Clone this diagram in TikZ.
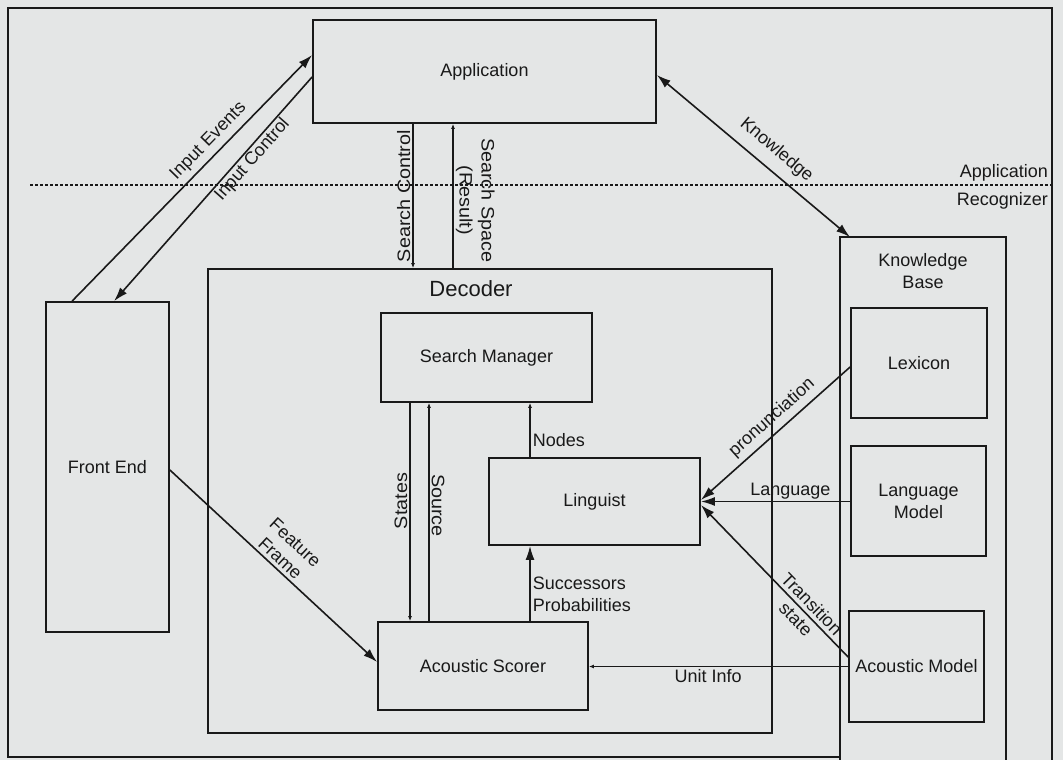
\documentclass[tikz,border=0pt]{standalone}
\usepackage{fontspec}
\usepackage{graphicx}
\setmainfont{Liberation Sans}
\usetikzlibrary{arrows.meta,calc}
\definecolor{bg}{RGB}{228,230,230}
\definecolor{ink}{RGB}{25,25,25}
\newcommand{\vtxt}[1]{\scalebox{1.1}[1]{#1}}
\begin{document}
\begin{tikzpicture}[x=1pt,y=-1pt,
  every node/.style={font=\fontsize{18}{22}\selectfont, text=ink},
  box/.style={draw=ink, line width=1.8pt, inner sep=0pt, align=center},
  con/.style={draw=ink, line width=1.6pt},
  >={Latex[length=14pt,width=9pt]},
  tiny/.style={-{Latex[length=5pt,width=4pt]}},
  lab/.style={inner sep=2pt, align=center}
]
\fill[bg] (0,0) rectangle (1063,760);
\useasboundingbox (0,0) rectangle (1063,760);
% outer frame
\draw[ink, line width=1.6pt] (840,757) -- (8,757) -- (8,8) -- (1052,8) -- (1052,760);
% separator
\draw[ink, line width=1.2pt, dash pattern=on 3pt off 2pt] (30,185) -- (1052,185);
\node[anchor=east, inner sep=1pt] (lapp) at (1049,173) {Application};
\node[anchor=east, inner sep=1pt] (lrec) at (1049,201) {Recognizer};

% boxes
\node[box, minimum width=343pt, minimum height=103pt] (app) at (484.5,71.5) {Application};
\node[box, minimum width=123pt, minimum height=330pt] (fe) at (107.5,467) {Front End};
\node[box, minimum width=564pt, minimum height=464pt] (dec) at (490,501) {};
\node[font=\fontsize{22}{26}\selectfont, inner sep=1pt] (declab) at (471,289) {Decoder};
\node[box, minimum width=211pt, minimum height=89pt] (sm) at (486.5,357.5) {Search Manager};
\node[box, minimum width=211pt, minimum height=87pt] (ling) at (594.5,501.5) {Linguist};
\node[box, minimum width=210pt, minimum height=88pt] (as) at (483,666) {Acoustic Scorer};
% knowledge base (open at the bottom)
\draw[ink, line width=1.8pt] (840,760) -- (840,237) -- (1006,237) -- (1006,760);
\node[align=center, inner sep=1pt] (kblab) at (923,271) {Knowledge\\Base};
\node[box, minimum width=136pt, minimum height=110pt] (lex) at (919,363) {Lexicon};
\node[box, minimum width=135pt, minimum height=110pt] (lm) at (918.5,501) {Language\\Model};
\node[box, minimum width=135pt, minimum height=111pt] (am) at (916.5,666.5) {Acoustic Model};
\coordinate (kb1) at (850,237);

% application <-> front end
\coordinate (ie1) at ([xshift=27pt]fe.north west);
\coordinate (ie2) at ([yshift=16.5pt]app.west);
\draw[con,->] (ie1) -- (ie2) node[lab, sloped, above, pos=0.61, inner sep=5pt] {Input Events};
\coordinate (ic1) at ([xshift=69pt]fe.north west);
\coordinate (ic2) at ([yshift=-5.5pt]app.west);
\draw[con,<-] (ic1) -- (ic2) node[lab, sloped, below, pos=0.66, inner sep=1pt] {Input Control};

% application <-> decoder
\coordinate (sc) at ([xshift=-71.5pt]app.south);
\draw[con,tiny] (sc) -- (sc |- dec.north) node[lab, pos=0.5, anchor=south, rotate=90] {\vtxt{Search Control}};
\coordinate (ss) at ([xshift=-31.5pt]app.south);
\draw[con,tiny] (ss |- dec.north) -- (ss) node[lab, pos=0.47, anchor=south, rotate=-90] {\vtxt{Search Space}\\\vtxt{(Result)}};

% knowledge
\draw[con,<->] ([yshift=-3.5pt]app.east) -- (kb1) node[lab, sloped, above, pos=0.555, inner sep=10pt] {Knowledge};

% feature frame
\draw[con,->] ([yshift=-3pt]fe.east) -- ([yshift=4pt]as.west) node[lab, sloped, above, pos=0.5, inner sep=3pt] {Feature\\Frame};

% inside decoder
\coordinate (st) at ([xshift=-76.5pt]sm.south);
\draw[con,tiny] (st) -- (st |- as.north) node[lab, pos=0.45, anchor=south, rotate=90] {\vtxt{States}};
\coordinate (so) at ([xshift=-57.5pt]sm.south);
\draw[con,tiny] (so |- as.north) -- (so) node[lab, pos=0.53, anchor=south, rotate=-90] {\vtxt{Source}};
\coordinate (nd) at ([xshift=-64.5pt]ling.north);
\draw[con,tiny] (nd) -- (nd |- sm.south) node[lab, pos=0.32, anchor=west] {Nodes};
\coordinate (sp) at ([xshift=47pt]as.north);
\draw[con,->] (sp) -- (sp |- ling.south) node[lab, pos=0.36, anchor=west, align=left] {Successors\\Probabilities};

% knowledge base -> linguist / scorer
\draw[con,<-] ([yshift=1.5pt]ling.east) -- ([yshift=-4pt]lex.west) node[lab, sloped, above, pos=0.54, inner sep=5pt] {pronunciation};
\draw[con,<-] (ling.east) -- (ling.east -| lm.west) node[lab, above, pos=0.6, inner sep=1pt] {Language};
\draw[con,<-] ([yshift=-3.5pt]ling.east) -- ([yshift=9.5pt]am.west) node[lab, sloped, pos=0.7] {Transition\\state};
\draw[con,tiny] (am.west) -- (am.west -| as.east) node[lab, below, pos=0.54] {Unit Info};
\end{tikzpicture}
\end{document}
